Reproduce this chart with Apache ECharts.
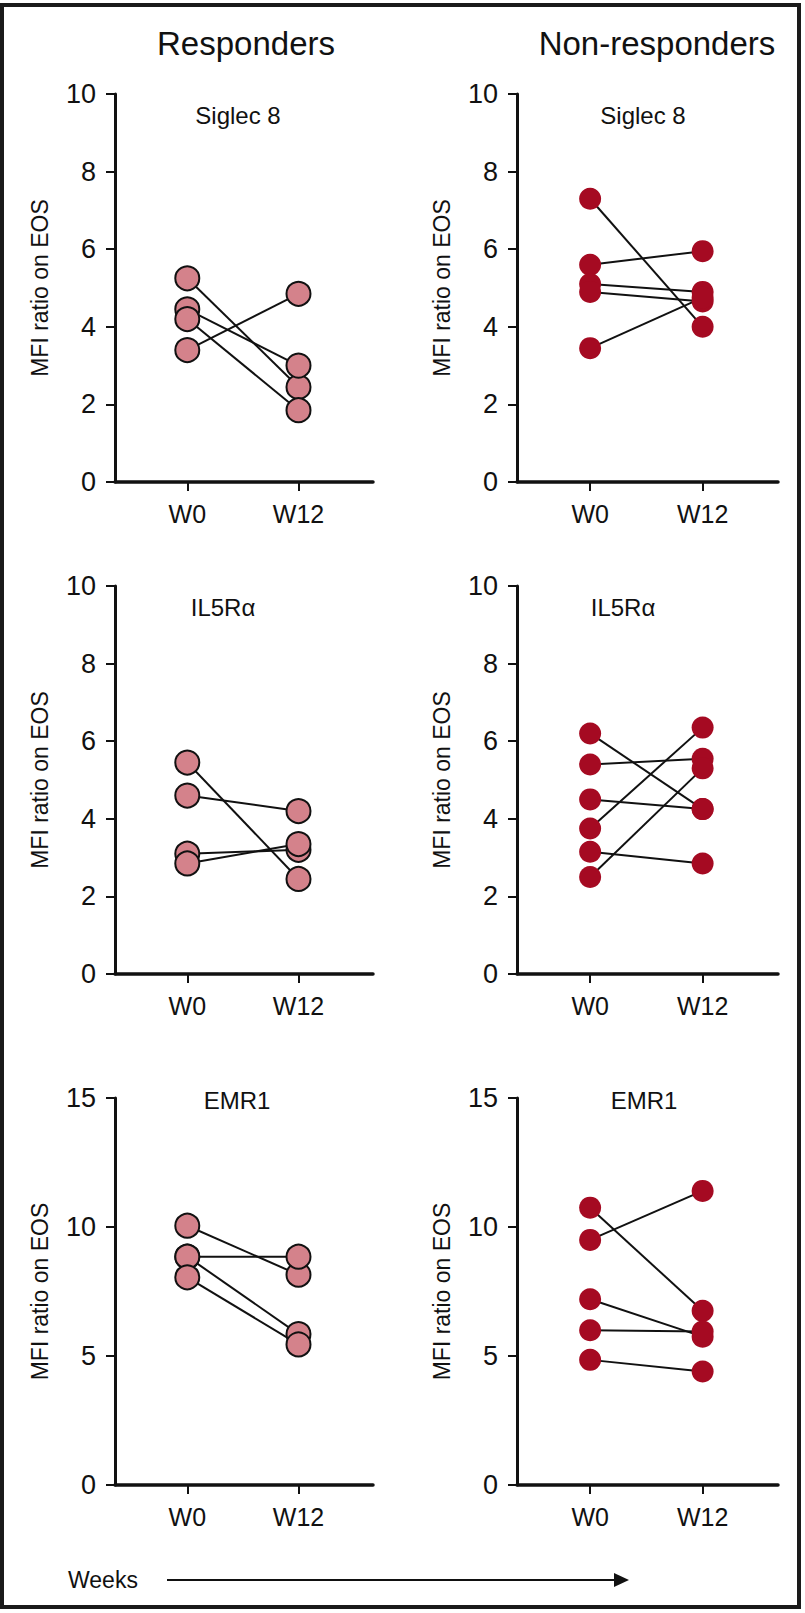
<!DOCTYPE html>
<html>
<head>
<meta charset="utf-8">
<script src="https://cdn.jsdelivr.net/npm/echarts@6/dist/echarts.min.js"></script>
<style>
html,body{margin:0;padding:0;background:#fff;}
#chart{width:805px;height:1613px;}
</style>
</head>
<body>
<div id="chart"></div>
<script>
// ---- data ----
const weeks = ['W0', 'W12'];
const groupTitles = ['Responders', 'Non-responders'];
const markerNames = ['Siglec 8', 'IL5R\u03b1', 'EMR1'];
const yAxisName = 'MFI ratio on EOS';
const footerLabel = 'Weeks';

const respSiglecW0  = [5.25, 4.45, 4.2, 3.4];
const respSiglecW12 = [2.45, 3.0, 1.85, 4.85];
const nonSiglecW0   = [7.3, 5.6, 5.1, 4.9, 3.45];
const nonSiglecW12  = [4.0, 5.95, 4.9, 4.65, 4.75];

const respIL5W0  = [5.45, 4.6, 3.1, 2.85];
const respIL5W12 = [2.45, 4.2, 3.2, 3.35];
const nonIL5W0   = [6.2, 5.4, 4.5, 3.75, 3.15, 2.5];
const nonIL5W12  = [4.25, 5.55, 4.25, 6.35, 2.85, 5.3];

const respEMRW0  = [10.05, 8.85, 8.85, 8.05];
const respEMRW12 = [8.15, 8.85, 5.85, 5.45];
const nonEMRW0   = [10.75, 9.5, 7.2, 6.0, 4.85];
const nonEMRW12  = [6.75, 11.4, 5.75, 5.95, 4.4];

const yMaxByRow = [10, 10, 15];
const yIntervalByRow = [2, 2, 5];

// ---- layout ----
const FONT = "'Liberation Sans', Arial, sans-serif";
const INK = '#111';
const colLeft = [115, 517];
const colWidth = [258, 261];
const rowTop = [94, 586, 1098];
const rowHeight = [388, 388, 387];
const xMin = -0.65, xMax = 1.67;

const panels = [
  {row:0, col:0, w0:respSiglecW0, w12:respSiglecW12, resp:true},
  {row:0, col:1, w0:nonSiglecW0,  w12:nonSiglecW12,  resp:false},
  {row:1, col:0, w0:respIL5W0,    w12:respIL5W12,    resp:true},
  {row:1, col:1, w0:nonIL5W0,     w12:nonIL5W12,     resp:false},
  {row:2, col:0, w0:respEMRW0,    w12:respEMRW12,    resp:true},
  {row:2, col:1, w0:nonEMRW0,     w12:nonEMRW12,     resp:false}
];

const grid = [], xAxis = [], yAxis = [], series = [], graphic = [];

panels.forEach((p, i) => {
  grid.push({left: colLeft[p.col], top: rowTop[p.row], width: colWidth[p.col], height: rowHeight[p.row]});
  xAxis.push({
    gridIndex: i, type: 'value', min: xMin, max: xMax,
    splitLine: {show: false},
    axisLine: {show: true, onZero: false, lineStyle: {color: INK, width: 3.5}},
    axisTick: {show: true, customValues: [0, 1], length: 9, lineStyle: {color: INK, width: 2}},
    axisLabel: {show: true, customValues: [0, 1], formatter: v => weeks[Math.round(v)],
      fontSize: 25, color: INK, fontFamily: FONT, margin: 19}
  });
  yAxis.push({
    gridIndex: i, type: 'value', min: 0, max: yMaxByRow[p.row], interval: yIntervalByRow[p.row],
    splitLine: {show: false},
    axisLine: {show: true, onZero: false, lineStyle: {color: INK, width: 3}},
    axisTick: {show: true, length: 9, lineStyle: {color: INK, width: 2}},
    axisLabel: {fontSize: 27, color: INK, fontFamily: FONT, margin: 19},
    name: yAxisName, nameLocation: 'middle', nameGap: 64,
    nameTextStyle: {fontSize: 23, color: INK, fontFamily: FONT}
  });
  // connecting lines
  p.w0.forEach((v, k) => {
    series.push({
      type: 'line', xAxisIndex: i, yAxisIndex: i, z: 2,
      data: [[0, v], [1, p.w12[k]]],
      showSymbol: false, symbol: 'none', silent: true,
      lineStyle: {color: INK, width: 2}
    });
  });
  // markers
  const pts = [];
  p.w0.forEach(v => pts.push([0, v]));
  p.w12.forEach(v => pts.push([1, v]));
  series.push({
    type: 'scatter', xAxisIndex: i, yAxisIndex: i, z: 5,
    data: pts,
    symbol: 'circle',
    symbolSize: p.resp ? 24 : 22,
    itemStyle: p.resp
      ? {color: '#D4828B', borderColor: INK, borderWidth: 2, opacity: 1}
      : {color: '#A50A22', borderWidth: 0, opacity: 1}
  });
});

// subtitles (marker names) inside each panel
const subtitlePos = [[238,115],[643,115],[223,607],[623,607],[237,1100],[644,1100]];
panels.forEach((p, i) => {
  graphic.push({type: 'text', x: subtitlePos[i][0], y: subtitlePos[i][1], z: 10,
    style: {text: markerNames[p.row], fill: INK, font: '24px ' + FONT, align: 'center', verticalAlign: 'middle'}});
});
// group titles
graphic.push({type: 'text', x: 246, y: 43, style: {text: groupTitles[0], fill: INK, font: '33px ' + FONT, align: 'center', verticalAlign: 'middle'}});
graphic.push({type: 'text', x: 657, y: 43, style: {text: groupTitles[1], fill: INK, font: '33px ' + FONT, align: 'center', verticalAlign: 'middle'}});
// footer
graphic.push({type: 'text', x: 68, y: 1580, style: {text: footerLabel, fill: INK, font: '23px ' + FONT, align: 'left', verticalAlign: 'middle'}});
graphic.push({type: 'line', shape: {x1: 167, y1: 1580, x2: 618, y2: 1580}, style: {stroke: INK, lineWidth: 2}});
graphic.push({type: 'polygon', shape: {points: [[614, 1573], [629, 1580], [614, 1587]]}, style: {fill: INK}});
// frame
graphic.push({type: 'rect', shape: {x: 2, y: 5, width: 797, height: 1602}, style: {fill: 'none', stroke: '#1a1a1a', lineWidth: 4}, z: 20});

const chart = echarts.init(document.getElementById('chart'), null, {renderer: 'svg'});
chart.setOption({
  animation: false,
  backgroundColor: '#fff',
  grid, xAxis, yAxis, series, graphic
});
</script>
</body>
</html>
